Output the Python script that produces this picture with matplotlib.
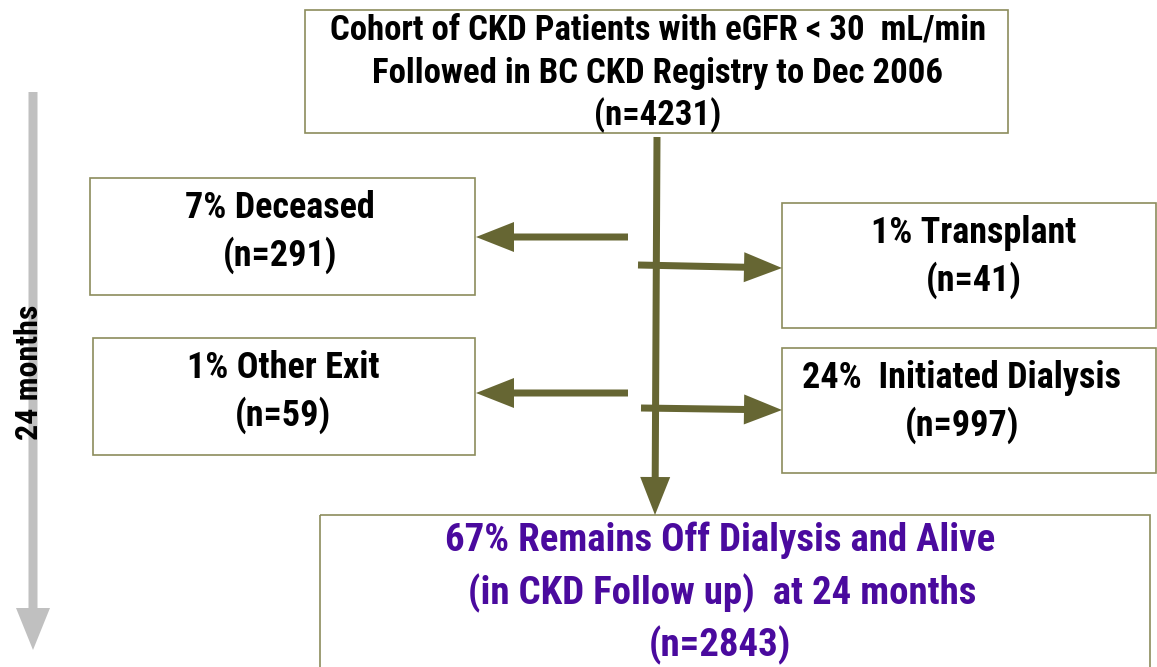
import matplotlib
matplotlib.use('Agg')
import matplotlib.pyplot as plt
from matplotlib.patches import Rectangle, FancyArrow

# Flow data
cohort_lines = ['Cohort of CKD Patients with eGFR < 30  mL/min',
                'Followed in BC CKD Registry to Dec 2006']
cohort_n = 4231
outcome_pct = [7, 1, 1, 24]
outcome_names = ['Deceased', 'Transplant', 'Other Exit', ' Initiated Dialysis']
outcome_n = [291, 41, 59, 997]
remain_pct = 67
remain_n = 2843
time_label = '24 months'

W, H = 1157, 667
fig = plt.figure(figsize=(W / 100, H / 100), dpi=100)
ax = fig.add_axes([0, 0, 1, 1])
ax.set_xlim(0, W)
ax.set_ylim(H, 0)
ax.axis('off')

font = ['Arial Narrow', 'Liberation Sans Narrow', 'Roboto Condensed',
        'Barlow Condensed', 'DejaVu Sans']
edge = '#8c8c5c'
olive = '#666633'
purple = '#4a0a9e'

def box(x0, y0, x1, y1):
  ax.add_patch(Rectangle((x0, y0), x1 - x0, y1 - y0, fill=False, ec=edge, lw=1.2))

def txt(x, y, s, size=22, color='black'):
  ax.text(x, y, s, ha='center', va='center', fontsize=size, fontweight='bold',
          family=font, color=color)

def arrow(x0, y0, x1, y1):
  ax.add_patch(FancyArrow(x0, y0, x1 - x0, y1 - y0, width=7, head_width=30,
                          head_length=38, length_includes_head=True,
                          color=olive, lw=0, capstyle='round'))

# time arrow on the left
ax.add_patch(FancyArrow(33, 92, 0, 558, width=9, head_width=34, head_length=42,
                        length_includes_head=True, color='#c0c0c0', lw=0))
ax.text(29, 372, time_label, rotation=90, ha='center', va='center',
        fontsize=23, fontweight='bold', family=font)

# boxes
box(305, 10, 1008, 133)
box(90, 178, 475, 295)
box(782, 203, 1156, 328)
box(93, 338, 475, 455)
box(782, 348, 1156, 473)
box(320, 515, 1150, 680)

# cohort text
txt(658, 30, cohort_lines[0], size=25)
txt(658, 73, cohort_lines[1], size=25)
txt(658, 115, f'(n={cohort_n})', size=25)

# outcome boxes: (center x, first line y)
pos = [(280, 208), (974, 233), (283, 368), (962, 378)]
for (cx, cy), p, name, n in zip(pos, outcome_pct, outcome_names, outcome_n):
  txt(cx, cy, f'{p}% {name}', size=26)
  txt(cx, cy + 47, f'(n={n})', size=26)

# remaining
txt(720, 540, f'{remain_pct}% Remains Off Dialysis and Alive', size=28, color=purple)
txt(722, 593, '(in CKD Follow up)  at 24 months', size=28, color=purple)
txt(720, 645, f'(n={remain_n})', size=28, color=purple)

# flow arrows
arrow(657, 137, 655, 515)
arrow(628, 237, 476, 237)
arrow(638, 265, 782, 268)
arrow(628, 393, 476, 393)
arrow(641, 408, 782, 410)

fig.savefig('out.png', dpi=100)
